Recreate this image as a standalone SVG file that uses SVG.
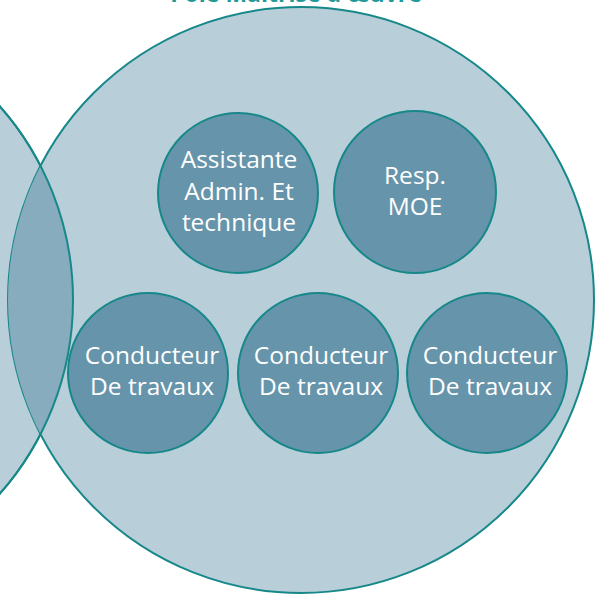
<svg xmlns="http://www.w3.org/2000/svg" width="596" height="598" viewBox="0 0 596 598">
<style>
.big{fill:#b8ced8;stroke:#17888a;stroke-width:2}
.node{fill:#6694aa;stroke:#17888a;stroke-width:2}
.lbl{font-family:"Open Sans","Liberation Sans",sans-serif;font-size:24.5px;fill:#ffffff;text-anchor:middle}
.title{font-family:"Open Sans","Liberation Sans",sans-serif;font-size:23px;font-weight:bold;fill:#1f9a9a;text-anchor:middle}
</style>
<defs>
<clipPath id="clipL"><circle cx="-220" cy="300" r="293"/></clipPath>
</defs>
<rect width="596" height="598" fill="#ffffff"/>
<text class="title" x="296" y="2">Pôle Maîtrise d'œuvre</text>
<g id="pole-left">
<circle class="big" cx="-220" cy="300" r="293"/>
</g>
<g id="pole-moe">
<circle class="big" cx="301" cy="300" r="293"/>
<circle cx="301" cy="300" r="293" clip-path="url(#clipL)" fill="#86acbd" stroke="none"/>
<circle cx="-220" cy="300" r="293" fill="none" stroke="#17888a" stroke-width="2"/>
</g>
<g id="assistante">
<circle class="node" cx="238" cy="193" r="80"/>
<text class="lbl" x="239" y="168">Assistante</text>
<text class="lbl" x="239" y="200">Admin. Et</text>
<text class="lbl" x="239" y="231">technique</text>
</g>
<g id="resp-moe">
<circle class="node" cx="415" cy="192" r="81"/>
<text class="lbl" x="415" y="184">Resp.</text>
<text class="lbl" x="415" y="215">MOE</text>
</g>
<g id="conducteur-1">
<circle class="node" cx="148" cy="373" r="80"/>
<text class="lbl" x="152" y="364">Conducteur</text>
<text class="lbl" x="152" y="395">De travaux</text>
</g>
<g id="conducteur-2">
<circle class="node" cx="318" cy="373" r="80"/>
<text class="lbl" x="321" y="364">Conducteur</text>
<text class="lbl" x="321" y="395">De travaux</text>
</g>
<g id="conducteur-3">
<circle class="node" cx="487" cy="373" r="80"/>
<text class="lbl" x="490" y="364">Conducteur</text>
<text class="lbl" x="490" y="395">De travaux</text>
</g>
<g id="connectors"/>
</svg>
